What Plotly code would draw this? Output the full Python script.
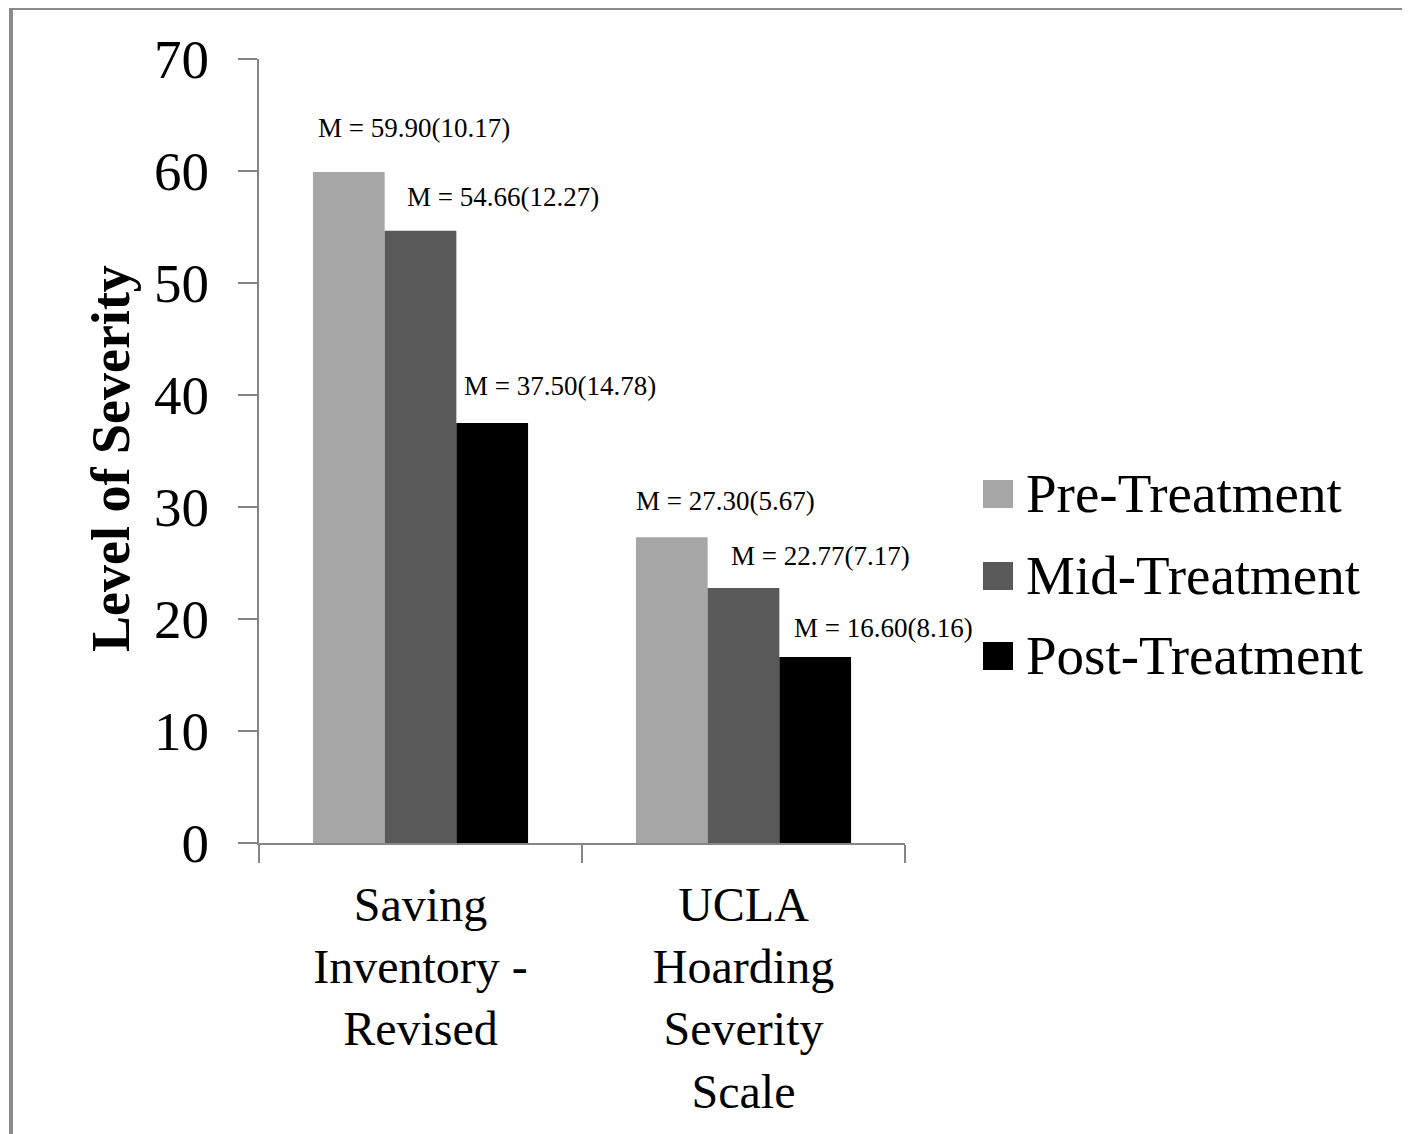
import plotly.graph_objects as go

# ---- data ----
categories = ["Saving<br>Inventory -<br>Revised", "UCLA<br>Hoarding<br>Severity<br>Scale"]
series_names = ["Pre-Treatment", "Mid-Treatment", "Post-Treatment"]
pre_means = [59.90, 27.30]
mid_means = [54.66, 22.77]
post_means = [37.50, 16.60]
pre_sd = [10.17, 5.67]
mid_sd = [12.27, 7.17]
post_sd = [14.78, 8.16]
y_ticks = [0, 10, 20, 30, 40, 50, 60, 70]

# ---- style ----
OFF = 8  # page body margin
W, H = 1410 - OFF, 1134 - OFF
L, R, T, B = 259 - OFF, 905 - OFF, 59 - OFF, 843 - OFF
colors = ["#a6a6a6", "#595959", "#000000"]
FONT = "Liberation Serif, Times New Roman, serif"
# label offsets (pixels) relative to category centre / bar top
label_dx = [[-7, 82, 139], [-18, 77, 140]]
label_dy = [[44, 34, 37], [36, 32, 29]]


def px(xp):
    return (xp - OFF - L) / (R - L)


def py(yp):
    return (B - (yp - OFF)) / (B - T)


means = [pre_means, mid_means, post_means]
sds = [pre_sd, mid_sd, post_sd]

fig = go.Figure()
for name, vals, c in zip(series_names, means, colors):
    fig.add_trace(go.Bar(x=categories, y=vals, name=name, marker=dict(color=c, line=dict(width=0)),
                         showlegend=False))

annotations = []
for s in range(3):
    for ci, cat in enumerate(categories):
        annotations.append(dict(
            x=cat, y=means[s][ci], xref="x", yref="y",
            text=f"M = {means[s][ci]:.2f}({sds[s][ci]:.2f})",
            showarrow=False, xanchor="center", yanchor="middle",
            xshift=label_dx[ci][s], yshift=label_dy[ci][s],
            font=dict(family=FONT, size=27, color="black")))

# y axis title
annotations.append(dict(x=px(111), y=py(459), xref="paper", yref="paper",
                        text="<b>Level of Severity</b>", textangle=-90, showarrow=False,
                        xanchor="center", yanchor="middle",
                        font=dict(family=FONT, size=54, color="black")))

# manual legend
shapes = []
legend_rows = [494, 576, 656]
for name, c, yc in zip(series_names, colors, legend_rows):
    shapes.append(dict(type="rect", xref="paper", yref="paper",
                       x0=px(983), x1=px(1013), y0=py(yc + 14), y1=py(yc - 14),
                       fillcolor=c, line=dict(width=0)))
    annotations.append(dict(x=px(1024), y=py(yc - 1), xref="paper", yref="paper",
                            text=name, showarrow=False, xanchor="left", yanchor="middle",
                            font=dict(family=FONT, size=55, color="black")))

# outer frame
shapes.append(dict(type="rect", xref="paper", yref="paper",
                   x0=px(11), x1=px(1410 + 20), y0=py(1134 + 20), y1=py(8),
                   line=dict(color="#8a8a8a", width=4), fillcolor="rgba(0,0,0,0)", layer="below"))

fig.update_layout(
    width=W, height=H,
    margin=dict(l=L, r=W - R, t=T, b=H - B),
    paper_bgcolor="white", plot_bgcolor="white",
    barmode="group", bargap=0.334, bargroupgap=0,
    font=dict(family=FONT, color="black"),
    annotations=annotations, shapes=shapes,
    showlegend=False,
)
fig.update_yaxes(range=[0, 70], tickvals=y_ticks, showgrid=False, zeroline=False,
                 showline=True, linecolor="#868686", linewidth=2,
                 ticks="outside", ticklen=19, tickwidth=2, tickcolor="#868686",
                 tickfont=dict(family=FONT, size=55, color="black"),
                 ticklabelstandoff=18)
fig.update_xaxes(range=[-0.5, 1.5], autorange=False,
                 showgrid=False, showline=True, linecolor="#868686", linewidth=2,
                 ticks="outside", ticklen=18, tickwidth=2, tickcolor="#868686",
                 tickson="boundaries",
                 tickfont=dict(family=FONT, size=48, color="black"),
                 ticklabelstandoff=18)

fig.write_html("out.html")
